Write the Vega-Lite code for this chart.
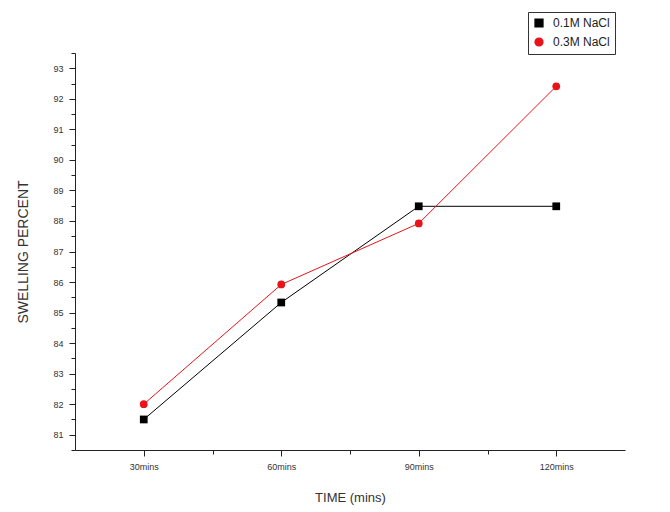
{
  "$schema": "https://vega.github.io/schema/vega-lite/v6.json",
  "width": 550,
  "height": 397,
  "autosize": "none",
  "padding": {"left": 75, "top": 53, "right": 45, "bottom": 62},
  "background": "white",
  "config": {
    "view": {"stroke": null},
    "font": "Liberation Sans",
    "axis": {"domainColor": "#222", "tickColor": "#222", "grid": false, "labelColor": "#333", "titleColor": "#333", "titleFontWeight": "normal"}
  },
  "data": {
    "values": [
      {"minutes": 30, "series": "0.1M NaCl", "swelling": 81.5},
      {"minutes": 60, "series": "0.1M NaCl", "swelling": 85.33},
      {"minutes": 90, "series": "0.1M NaCl", "swelling": 88.48},
      {"minutes": 120, "series": "0.1M NaCl", "swelling": 88.48},
      {"minutes": 30, "series": "0.3M NaCl", "swelling": 82.0},
      {"minutes": 60, "series": "0.3M NaCl", "swelling": 85.92},
      {"minutes": 90, "series": "0.3M NaCl", "swelling": 87.92},
      {"minutes": 120, "series": "0.3M NaCl", "swelling": 92.41}
    ]
  },
  "encoding": {
    "x": {
      "field": "minutes", "type": "quantitative",
      "scale": {"domain": [15, 135], "nice": false, "zero": false},
      "axis": {
        "title": "TIME (mins)", "titleFontSize": 13, "titlePadding": 20,
        "values": [30, 45, 60, 75, 90, 105, 120],
        "labelExpr": "datum.value % 30 === 0 ? datum.value + 'mins' : ''",
        "labelFontSize": 9, "labelPadding": 6,
        "tickSize": {"condition": {"test": "datum.value % 30 === 0", "value": 6}, "value": 4}
      }
    },
    "y": {
      "field": "swelling", "type": "quantitative",
      "scale": {"domain": [80.5, 93.5], "nice": false, "zero": false},
      "axis": {
        "title": "SWELLING PERCENT", "titleFontSize": 14, "titlePadding": 22,
        "values": [80.5, 81, 81.5, 82, 82.5, 83, 83.5, 84, 84.5, 85, 85.5, 86, 86.5, 87, 87.5, 88, 88.5, 89, 89.5, 90, 90.5, 91, 91.5, 92, 92.5, 93, 93.5],
        "labelExpr": "datum.value % 1 === 0 ? format(datum.value, 'd') : ''",
        "labelFontSize": 9, "labelPadding": 6,
        "tickSize": {"condition": {"test": "datum.value % 1 === 0", "value": 6}, "value": 4}
      }
    },
    "color": {
      "field": "series", "type": "nominal",
      "scale": {"domain": ["0.1M NaCl", "0.3M NaCl"], "range": ["#000000", "#e8141a"]},
      "legend": {
        "title": null, "orient": "none", "legendX": 453, "legendY": -41,
        "strokeColor": "#333", "padding": 5, "labelFontSize": 12, "labelColor": "#222",
        "symbolSize": 60, "rowPadding": 5, "labelOffset": 8
      }
    },
    "shape": {
      "field": "series", "type": "nominal",
      "scale": {"domain": ["0.1M NaCl", "0.3M NaCl"], "range": ["square", "circle"]},
      "legend": null
    }
  },
  "layer": [
    {"mark": {"type": "line", "strokeWidth": 1}},
    {"mark": {"type": "point", "filled": true, "size": 60, "opacity": 1}}
  ]
}
